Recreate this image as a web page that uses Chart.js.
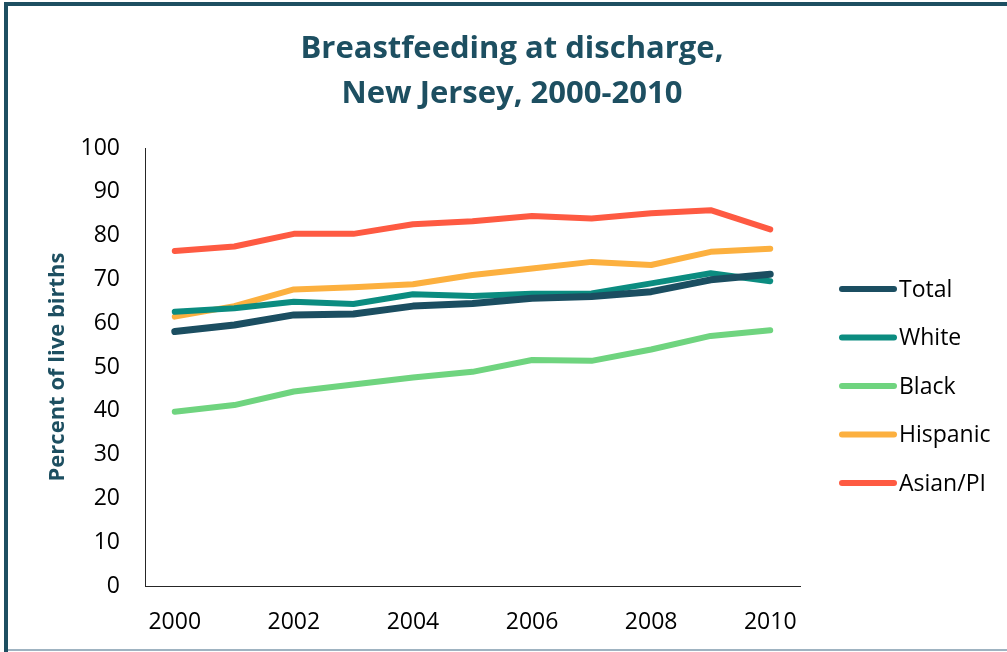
<!DOCTYPE html>
<html>
<head>
<meta charset="utf-8">
<script src="https://cdn.jsdelivr.net/npm/chart.js@4.4.0/dist/chart.umd.min.js"></script>
<style>
  html, body { margin: 0; padding: 0; background: #fff; }
  #wrap { width: 1007px; height: 652px; position: relative; }
</style>
</head>
<body>
<div id="wrap"><canvas id="chart" width="1007" height="652"></canvas></div>
<script>
// data
const years = ['2000', '2001', '2002', '2003', '2004', '2005', '2006', '2007', '2008', '2009', '2010'];
const total    = [58.1, 59.6, 61.9, 62.1, 63.9, 64.5, 65.7, 66.1, 67.2, 69.9, 71.2];
const white    = [62.6, 63.4, 64.9, 64.4, 66.6, 66.2, 66.7, 66.8, 69.1, 71.4, 69.6];
const black    = [39.8, 41.3, 44.4, 46.0, 47.6, 48.9, 51.6, 51.4, 54.0, 57.1, 58.4];
const hispanic = [61.5, 63.9, 67.7, 68.2, 68.9, 71.0, 72.5, 74.0, 73.3, 76.3, 77.0];
const asian    = [76.5, 77.5, 80.4, 80.4, 82.6, 83.3, 84.5, 83.9, 85.1, 85.8, 81.4];
const yTicks = [0, 10, 20, 30, 40, 50, 60, 70, 80, 90, 100];

const titleLines = ['Breastfeeding at discharge,', 'New Jersey, 2000-2010'];
const tealDark = '#1d4f61';
const FONT = '"Open Sans", "DejaVu Sans", sans-serif';

function series(label, data, color, width) {
  return {
    label, data,
    borderColor: color, backgroundColor: color,
    borderWidth: width, pointRadius: 0, tension: 0,
    borderCapStyle: 'round', borderJoinStyle: 'round'
  };
}

// frame, title and legend drawn on the canvas
const decor = {
  id: 'decor',
  beforeDraw(chart) {
    const ctx = chart.ctx;
    ctx.save();
    ctx.fillStyle = '#fff';
    ctx.fillRect(0, 0, chart.width, chart.height);
    ctx.fillStyle = tealDark;
    ctx.fillRect(4, 2, chart.width - 4, 4);
    ctx.fillRect(4, 2, 4, chart.height - 2);
    ctx.fillStyle = '#9fb3c1';
    ctx.fillRect(8, 649, chart.width - 8, 2);
    ctx.restore();
  },
  afterDraw(chart) {
    const ctx = chart.ctx;
    ctx.save();
    ctx.fillStyle = tealDark;
    ctx.font = 'bold 31px ' + FONT;
    ctx.textAlign = 'center';
    ctx.textBaseline = 'alphabetic';
    ctx.fillText(titleLines[0], 512, 58);
    ctx.fillText(titleLines[1], 512, 103);

    // legend
    ctx.font = '23px ' + FONT;
    ctx.textAlign = 'left';
    ctx.textBaseline = 'middle';
    chart.data.datasets.forEach((ds, i) => {
      const y = 289 + i * 48.5;
      ctx.strokeStyle = ds.borderColor;
      ctx.lineWidth = 6;
      ctx.lineCap = 'round';
      ctx.beginPath();
      ctx.moveTo(842, y);
      ctx.lineTo(894, y);
      ctx.stroke();
      ctx.fillStyle = '#000';
      ctx.fillText(ds.label, 899, y + 1);
    });
    ctx.restore();
  }
};

new Chart(document.getElementById('chart'), {
  type: 'line',
  data: {
    labels: years,
    datasets: [
      series('Total', total, '#1b4e61', 7),
      series('White', white, '#0b8c80', 6),
      series('Black', black, '#6fd47f', 6),
      series('Hispanic', hispanic, '#fcb03f', 6),
      series('Asian/PI', asian, '#fe5a42', 6)
    ]
  },
  options: {
    responsive: false,
    animation: false,
    layout: { padding: { left: 0, right: 207, top: 148, bottom: 0 } },
    plugins: {
      legend: { display: false },
      title: { display: false },
      tooltip: { enabled: false }
    },
    scales: {
      x: {
        offset: true,
        grid: { display: false, drawTicks: false },
        border: { display: true, color: '#262626', width: 1 },
        ticks: {
          autoSkip: false, maxRotation: 0, padding: 23,
          color: '#000', font: { family: FONT, size: 23 },
          callback: (v, i) => (i % 2 === 0 ? years[i] : '')
        },
        afterFit: s => { s.height = 66; }
      },
      y: {
        min: 0, max: 100,
        afterBuildTicks: s => { s.ticks = yTicks.map(v => ({ value: v })); },
        grid: { display: false, drawTicks: false },
        border: { display: true, color: '#262626', width: 1 },
        ticks: { padding: 25, color: '#000', font: { family: FONT, size: 23 } },
        title: {
          display: true, text: 'Percent of live births', color: tealDark,
          font: { family: FONT, size: 22, weight: 'bold' },
          padding: { top: 45, bottom: 0 }
        },
        afterFit: s => { s.width = 145; }
      }
    }
  },
  plugins: [decor]
});
</script>
</body>
</html>
